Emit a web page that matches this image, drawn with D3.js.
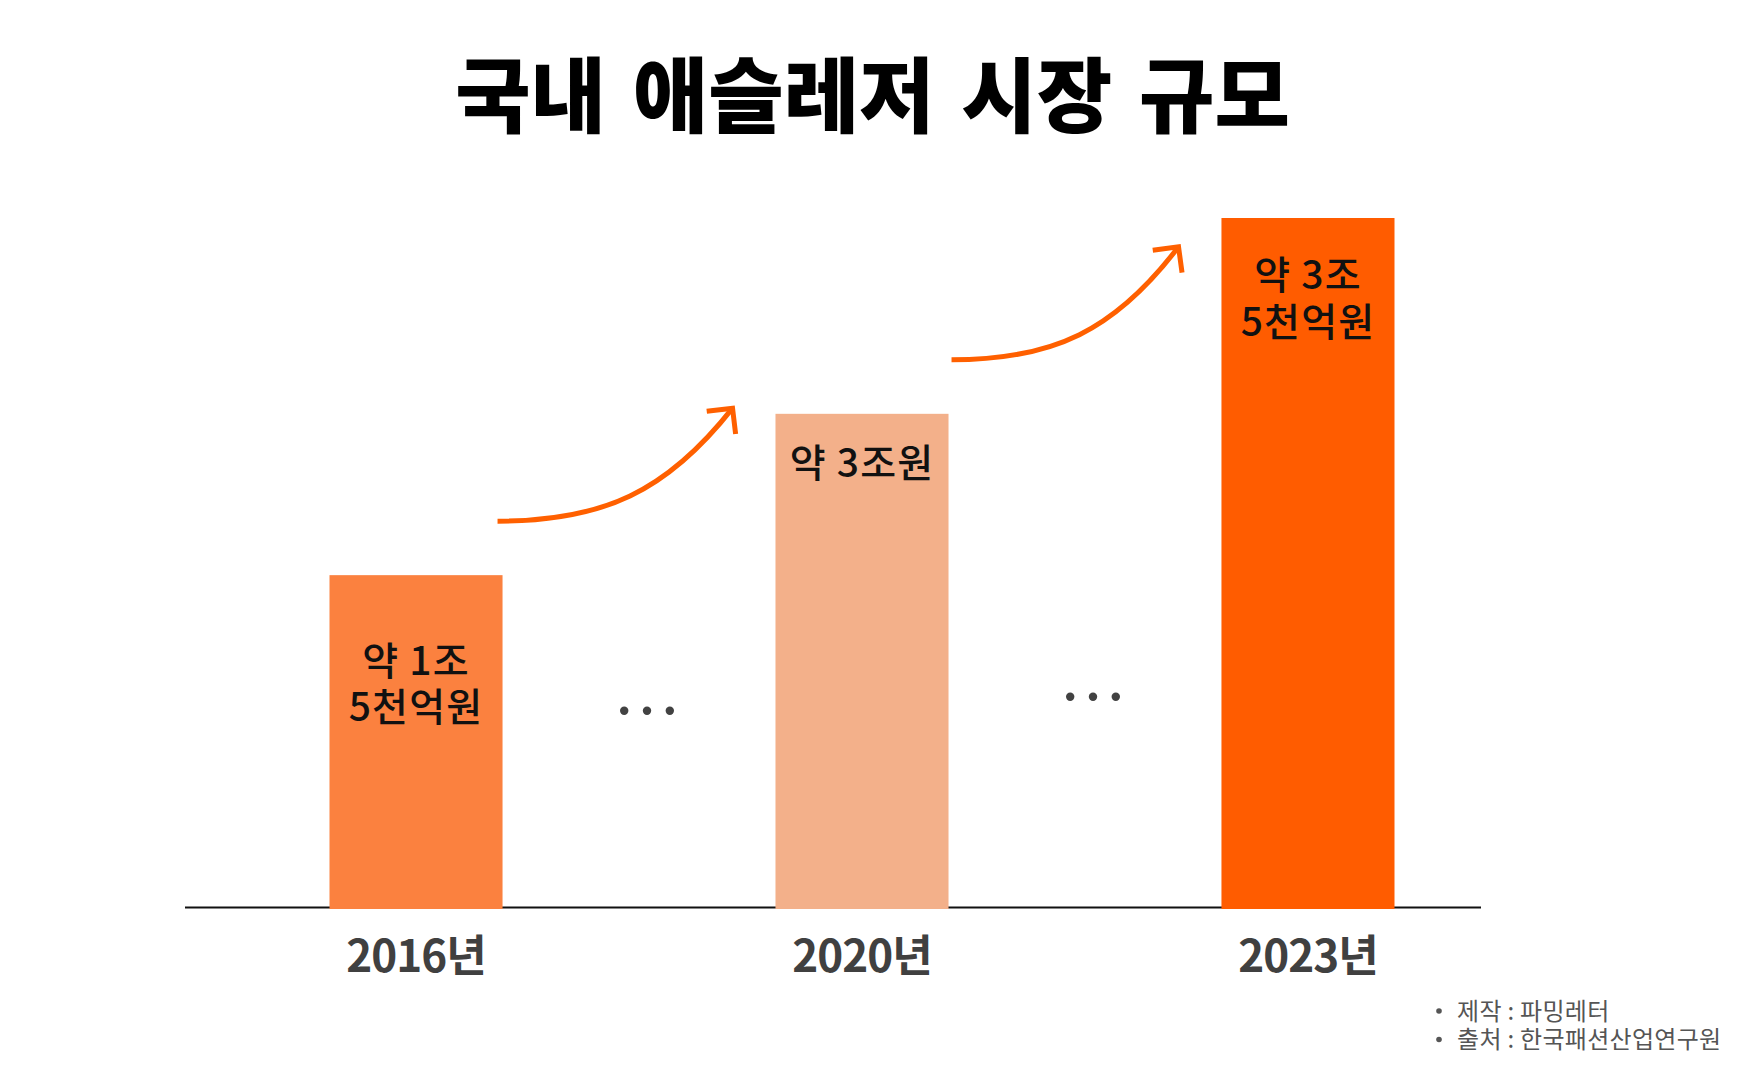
<!DOCTYPE html>
<html>
<head>
<meta charset="utf-8">
<script src="https://cdn.jsdelivr.net/npm/d3@7"></script>
<style>
  body { margin: 0; background: #fff; }
  text { font-family: "Noto Sans CJK KR", "Noto Sans", sans-serif; }
</style>
</head>
<body>
<div id="vis"></div>
<script>
const title = "국내 애슬레저 시장 규모";
const years = ["2016", "2020", "2023"];
// market size in trillion won, as written on the bars
const amounts = [1.5, 3, 3.5];
const amountLabels = [["약 1조", "5천억원"], ["약 3조원"], ["약 3조", "5천억원"]];
// bar heights as drawn in the source (not to scale), index with tallest = 100
const barLevels = [48.2, 71.6, 100];
const footnotes = ["제작 : 파밍레터", "출처 : 한국패션산업연구원"];

const width = 1745;
const height = 1070;
const baseY = 907.5;
const colors = ["#fb813f", "#f3b08a", "#ff5c00"];
const arrowColor = "#ff6000";

const svg = d3
  .select("#vis")
  .append("svg")
  .attr("width", width)
  .attr("height", height);

svg
  .append("text")
  .attr("x", width / 2)
  .attr("y", 126)
  .attr("text-anchor", "middle")
  .style("font-size", "82px")
  .style("font-weight", 900)
  .style("word-spacing", "8px")
  .style("fill", "#000")
  .text(title);

const x = d3
  .scaleBand()
  .domain(years)
  .range([329.5, 1394.5])
  .paddingInner(0.612);

const y = d3.scaleLinear().domain([0, 100]).range([baseY, 218]);

// baseline
svg
  .append("line")
  .attr("x1", 185)
  .attr("x2", 1481)
  .attr("y1", baseY)
  .attr("y2", baseY)
  .style("stroke", "#111")
  .style("stroke-width", 2);

svg
  .selectAll(".bar")
  .data(years)
  .join("rect")
  .attr("class", "bar")
  .attr("x", (d) => x(d))
  .attr("y", (d, i) => y(barLevels[i]))
  .attr("width", x.bandwidth())
  .attr("height", (d, i) => baseY - y(barLevels[i]) + 1.5)
  .style("fill", (d, i) => colors[i]);

// labels inside the bars
const labelDy = [99.5, 63, 71];
years.forEach((yr, i) => {
  const t = svg
    .append("text")
    .attr("text-anchor", "middle")
    .style("font-size", "39px")
    .style("font-weight", 500)
    .style("letter-spacing", "1.2px")
    .style("fill", "#111");
  amountLabels[i].forEach((line, j) => {
    t.append("tspan")
      .attr("x", x(yr) + x.bandwidth() / 2)
      .attr("y", y(barLevels[i]) + labelDy[i] + j * 46.5)
      .text(line);
  });
});

// x axis labels
const xAxis = d3
  .axisBottom(x)
  .tickSize(0)
  .tickFormat((d) => d + "년");
const axisG = svg
  .append("g")
  .attr("transform", `translate(0,${baseY})`)
  .call(xAxis);
axisG.select(".domain").remove();
axisG
  .selectAll("text")
  .attr("y", 64.5)
  .attr("dy", 0)
  .style("font-family", '"Noto Sans CJK KR", sans-serif')
  .style("font-size", "44px")
  .style("font-weight", 700)
  .style("letter-spacing", "-1px")
  .style("fill", "#404040");

// "..." between bars
const gapY = [710.7, 696.7];
[0, 1].forEach((i) => {
  const cx =
    (x(years[i]) + x(years[i + 1]) + x.bandwidth()) / 2 + 8;
  svg
    .selectAll(".gap" + i)
    .data([-1, 0, 1])
    .join("circle")
    .attr("class", "gap" + i)
    .attr("cx", (k) => cx + k * 22.8)
    .attr("cy", gapY[i])
    .attr("r", 4.2)
    .style("fill", "#424242");
});

// growth arrows
[0, 1].forEach((i) => {
  const sx = x(years[i]) + x.bandwidth() - 5 + i * 8;
  const sy = y(barLevels[i]) - 54;
  const dx = 235 - i * 8;
  const dy = -113;
  const ex = sx + dx;
  const ey = sy + dy;
  const c2x = sx + 0.72 * dx;
  const c2y = sy + 0.26 * dy;
  svg
    .append("path")
    .attr(
      "d",
      `M${sx},${sy} C${sx + 0.45 * dx},${sy} ${c2x},${c2y} ${ex},${ey}`,
    )
    .style("fill", "none")
    .style("stroke", arrowColor)
    .style("stroke-width", 5);

  const ang = Math.atan2(c2y - ey, c2x - ex);
  const len = 26;
  const a1 = ang - Math.PI / 4;
  const a2 = ang + Math.PI / 4;
  svg
    .append("path")
    .attr(
      "d",
      `M${ex + len * Math.cos(a1)},${ey + len * Math.sin(a1)} L${ex},${ey} L${ex + len * Math.cos(a2)},${ey + len * Math.sin(a2)}`,
    )
    .style("fill", "none")
    .style("stroke", arrowColor)
    .style("stroke-width", 5)
    .style("stroke-linejoin", "miter");
});

// footnotes
footnotes.forEach((f, i) => {
  svg
    .append("circle")
    .attr("cx", 1439)
    .attr("cy", 1011 + i * 28.5)
    .attr("r", 2.8)
    .style("fill", "#555");
  svg
    .append("text")
    .attr("x", 1457)
    .attr("y", 1019.5 + i * 28.5)
    .style("font-size", "24px")
    .style("fill", "#555")
    .style("letter-spacing", "0.3px")
    .text(f);
});
</script>
</body>
</html>
